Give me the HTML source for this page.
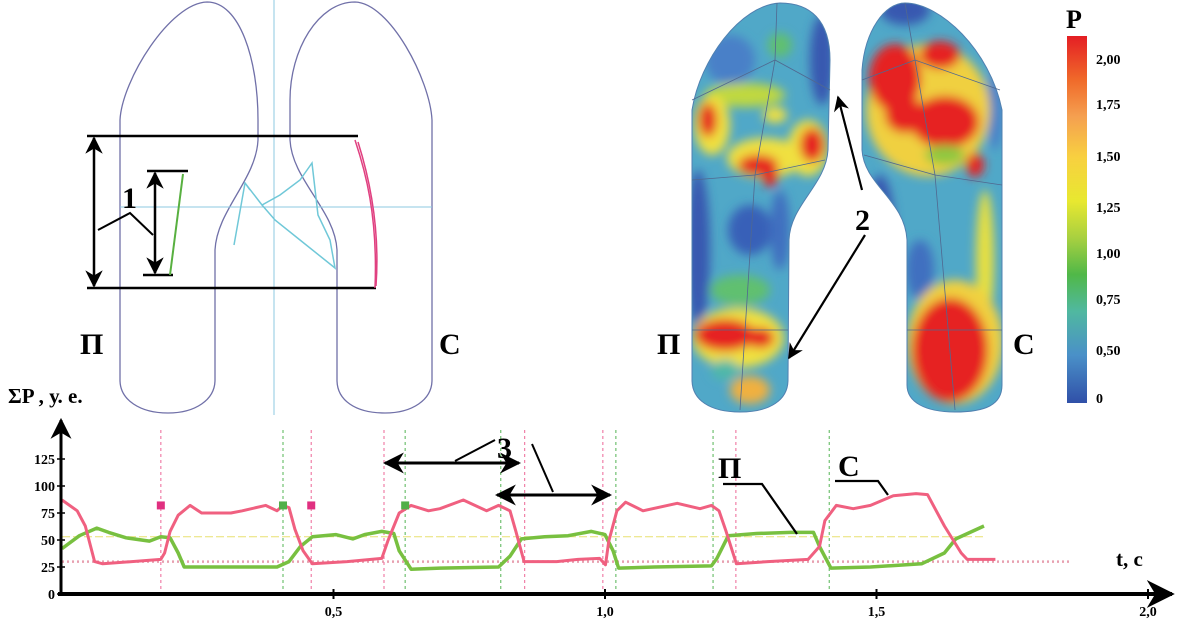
<!DOCTYPE html>
<html><head><meta charset="utf-8">
<style>
html,body{margin:0;padding:0;background:#fff;}
svg{display:block;}
text{font-family:"Liberation Serif","DejaVu Serif",serif;font-weight:bold;fill:#000;}
</style></head>
<body>
<svg id="fig" width="1192" height="630" viewBox="0 0 1192 630" xmlns="http://www.w3.org/2000/svg">
<defs>
  <filter id="blur" x="-20%" y="-20%" width="140%" height="140%"><feGaussianBlur stdDeviation="5"/></filter>
  <clipPath id="clipL"><path d="M 692 110 C 700 60, 740 5, 780 3 C 810 3, 830 20, 830 60 L 828 150 C 826 185, 790 205, 789 240 L 788 380 C 788 400, 770 412, 740 412 C 710 412, 692 400, 692 380 Z"/></clipPath>
  <clipPath id="clipR"><path d="M 862 150 L 862 70 C 865 30, 885 3, 905 3 C 940 3, 990 50, 1002 110 L 1002 385 C 1002 405, 985 412, 955 412 C 925 412, 907 402, 907 385 L 907 240 C 905 200, 864 185, 862 150 Z"/></clipPath>
  <linearGradient id="cbar" x1="0" y1="0" x2="0" y2="1">
    <stop offset="0" stop-color="#e41e24"/><stop offset="0.12" stop-color="#f06a2a"/>
    <stop offset="0.22" stop-color="#f5a050"/><stop offset="0.33" stop-color="#f8d040"/>
    <stop offset="0.45" stop-color="#e8e830"/><stop offset="0.55" stop-color="#a8d040"/>
    <stop offset="0.65" stop-color="#50b848"/><stop offset="0.75" stop-color="#50b8a0"/>
    <stop offset="0.87" stop-color="#4a90c8"/><stop offset="1" stop-color="#3050a8"/>
  </linearGradient>
  <marker id="ah" viewBox="0 0 10 10" refX="9" refY="5" markerWidth="7" markerHeight="7" orient="auto-start-reverse"><path d="M0,0 L10,5 L0,10 L3,5 Z" fill="#000"/></marker>
</defs>

<g>
  <path d="M 120 380 L 120 120 C 122 80, 170 3, 207 2 C 240 2, 258 60, 258 120 L 258 140 C 256 180, 217 210, 215 250 L 215 380 C 215 400, 195 413, 168 413 C 140 413, 120 400, 120 380 Z" fill="none" stroke="#7070a8" stroke-width="1.3"/>
  <path d="M 432 380 L 432 120 C 430 80, 390 3, 355 2 C 318 2, 290 50, 290 100 L 290 140 C 292 180, 335 210, 337 250 L 337 380 C 337 400, 355 413, 385 413 C 412 413, 432 400, 432 380 Z" fill="none" stroke="#7070a8" stroke-width="1.3"/>
  <line x1="274" y1="0" x2="274" y2="415" stroke="#8cc8e0" stroke-width="1"/>
  <line x1="120" y1="207" x2="432" y2="207" stroke="#8cc8e0" stroke-width="1"/>
  <line x1="87" y1="136" x2="358" y2="136" stroke="#000" stroke-width="2.5"/>
  <line x1="87" y1="288" x2="376" y2="288" stroke="#000" stroke-width="2.5"/>
  <line x1="94" y1="138" x2="94" y2="286" stroke="#000" stroke-width="2.5" marker-start="url(#ah)" marker-end="url(#ah)"/>
  <line x1="147" y1="171" x2="188" y2="171" stroke="#000" stroke-width="2.5"/>
  <line x1="143" y1="275" x2="173" y2="275" stroke="#000" stroke-width="2.5"/>
  <line x1="155" y1="173" x2="155" y2="273" stroke="#000" stroke-width="2.5" marker-start="url(#ah)" marker-end="url(#ah)"/>
  <polyline points="98,230 130,213 153,235" fill="none" stroke="#000" stroke-width="2"/>
  <text x="122" y="208" font-size="30">1</text>
  <line x1="183" y1="174" x2="170" y2="275" stroke="#58b040" stroke-width="2"/>
  <path d="M 355 140 C 365 170, 378 215, 375 288 M 358 142 C 370 180, 380 230, 376 286" fill="none" stroke="#e04080" stroke-width="1.5"/>
  <polyline points="234,245 245,183 262,205 275,220 300,240 335,268 330,240 318,215 312,163 300,180 280,195 262,205 245,183 250,190" fill="none" stroke="#70c8d8" stroke-width="1.5"/>
  <text x="80" y="354" font-size="30">П</text>
  <text x="439" y="354" font-size="30">С</text>
</g>

<g>
  <g clip-path="url(#clipL)">
    <rect x="680" y="0" width="160" height="420" fill="#50a8c8"/>
    <g filter="url(#blur)">
      <ellipse cx="698" cy="250" rx="12" ry="80" fill="#3858b0"/>
      <ellipse cx="822" cy="60" rx="12" ry="45" fill="#3858b0"/>
      <ellipse cx="730" cy="60" rx="25" ry="25" fill="#4a80c8"/>
      <ellipse cx="750" cy="230" rx="22" ry="25" fill="#3860b8"/>
      <ellipse cx="780" cy="230" rx="10" ry="40" fill="#4070c0"/>
      <ellipse cx="740" cy="290" rx="30" ry="15" fill="#60c070"/>
      <ellipse cx="780" cy="45" rx="12" ry="12" fill="#60c070"/>
      <ellipse cx="745" cy="95" rx="40" ry="12" fill="#c0d840"/>
      <ellipse cx="712" cy="125" rx="18" ry="30" fill="#f0e040"/>
      <ellipse cx="765" cy="158" rx="38" ry="20" fill="#f0e040"/>
      <ellipse cx="808" cy="148" rx="20" ry="28" fill="#f0e040"/>
      <ellipse cx="775" cy="115" rx="12" ry="8" fill="#f0e040"/>
      <ellipse cx="708" cy="120" rx="9" ry="17" fill="#e62020"/>
      <ellipse cx="758" cy="165" rx="20" ry="10" fill="#e62020"/>
      <ellipse cx="770" cy="175" rx="8" ry="12" fill="#e62020"/>
      <ellipse cx="812" cy="145" rx="12" ry="17" fill="#e62020"/>
      <ellipse cx="738" cy="338" rx="46" ry="30" fill="#f0e040"/>
      <ellipse cx="725" cy="335" rx="30" ry="16" fill="#e62020"/>
      <ellipse cx="760" cy="338" rx="14" ry="10" fill="#e62020"/>
      <ellipse cx="725" cy="370" rx="14" ry="10" fill="#50b8a8"/>
      <ellipse cx="750" cy="390" rx="20" ry="14" fill="#f0b040"/>
    </g>
  </g>
  <path d="M 692 110 C 700 60, 740 5, 780 3 C 810 3, 830 20, 830 60 L 828 150 C 826 185, 790 205, 789 240 L 788 380 C 788 400, 770 412, 740 412 C 710 412, 692 400, 692 380 Z" fill="none" stroke="#5080b0" stroke-width="1"/>
  <path d="M 777 3 L 775 60 L 755 175 L 740 410 M 692 100 L 775 60 L 830 90 M 692 180 L 755 175 L 825 160 M 692 330 L 788 330" fill="none" stroke="#506890" stroke-width="0.8"/>
</g>
<g>
  <g clip-path="url(#clipR)">
    <rect x="855" y="0" width="160" height="420" fill="#50a8c8"/>
    <g filter="url(#blur)">
      <ellipse cx="880" cy="235" rx="15" ry="60" fill="#3858b0"/>
      <ellipse cx="920" cy="270" rx="14" ry="30" fill="#4070c0"/>
      <ellipse cx="905" cy="10" rx="25" ry="15" fill="#3858b0"/>
      <ellipse cx="995" cy="110" rx="8" ry="40" fill="#4a80c8"/>
      <ellipse cx="928" cy="110" rx="62" ry="66" fill="#f0d040"/>
      <ellipse cx="895" cy="78" rx="26" ry="34" fill="#e62020"/>
      <ellipse cx="940" cy="55" rx="20" ry="14" fill="#e62020"/>
      <ellipse cx="945" cy="122" rx="34" ry="26" fill="#e62020"/>
      <ellipse cx="905" cy="115" rx="20" ry="18" fill="#e62020"/>
      <ellipse cx="975" cy="165" rx="9" ry="12" fill="#e62020"/>
      <ellipse cx="945" cy="155" rx="20" ry="10" fill="#90c840"/>
      <ellipse cx="985" cy="260" rx="9" ry="70" fill="#e8e040"/>
      <ellipse cx="955" cy="342" rx="48" ry="62" fill="#f0d040"/>
      <ellipse cx="950" cy="350" rx="38" ry="52" fill="#e62020"/>
    </g>
  </g>
  <path d="M 862 150 L 862 70 C 865 30, 885 3, 905 3 C 940 3, 990 50, 1002 110 L 1002 385 C 1002 405, 985 412, 955 412 C 925 412, 907 402, 907 385 L 907 240 C 905 200, 864 185, 862 150 Z" fill="none" stroke="#5080b0" stroke-width="1"/>
  <path d="M 905 3 L 915 60 L 935 175 L 955 410 M 862 80 L 915 60 L 1000 90 M 864 155 L 935 175 L 1002 185 M 907 330 L 1002 330" fill="none" stroke="#506890" stroke-width="0.8"/>
</g>
<g>
  <text x="657" y="354" font-size="30">П</text>
  <text x="1013" y="354" font-size="30">С</text>
  <text x="855" y="230" font-size="30">2</text>
  <line x1="862" y1="190" x2="838" y2="97" stroke="#000" stroke-width="2.2" marker-end="url(#ah)"/>
  <line x1="865" y1="235" x2="789" y2="358" stroke="#000" stroke-width="2.2" marker-end="url(#ah)"/>
</g>
<g>
  <text x="1066" y="28" font-size="26">P</text>
  <rect x="1067" y="36" width="20" height="367" fill="url(#cbar)"/>
  <g font-size="14">
    <text x="1096" y="64">2,00</text>
    <text x="1096" y="109">1,75</text>
    <text x="1096" y="161">1,50</text>
    <text x="1096" y="212">1,25</text>
    <text x="1096" y="258">1,00</text>
    <text x="1096" y="304">0,75</text>
    <text x="1096" y="355">0,50</text>
    <text x="1096" y="403">0</text>
  </g>
</g>

<g id="chart"></g>
</svg>

<script>
const tickT = [0, 0.5, 1.0, 1.5, 2.0];
const tickTLabels = ["", "0,5", "1,0", "1,5", "2,0"];
const tickV = [0, 25, 50, 75, 100, 125];
const tickVLabels = ["0", "25", "50", "75", "100", "125"];
const seriesC_t = [0,.028,.043,.060,.075,.182,.189,.199,.214,.236,.257,.311,.332,.375,.396,.407,.418,.429,.444,.461,.525,.589,.600,.621,.643,.675,.696,.739,.782,.804,.825,.836,.851,.911,.95,.99,1.001,1.007,1.022,1.038,1.070,1.133,1.175,1.196,1.210,1.223,1.242,1.300,1.374,1.395,1.405,1.426,1.457,1.489,1.531,1.573,1.594,1.625,1.656,1.667,1.719];
const seriesC_v = [87,77,63,30,28,32,38,58,73,82,75,75,77,82,77,82,80,60,40,28,30,33,49,75,82,77,79,87,77,82,77,58,30,30,32,33,27,49,77,85,77,84,79,82,77,58,28,30,32,44,68,82,79,82,91,93,92,63,38,32,32];
const seriesP_t = [0,.032,.064,.086,.118,.161,.182,.199,.214,.225,.257,.396,.418,.439,.461,.504,.536,.557,.589,.611,.621,.643,.696,.804,.825,.846,.889,.932,.975,1.0,1.015,1.025,1.091,1.196,1.206,1.227,1.279,1.342,1.384,1.395,1.416,1.489,1.583,1.625,1.646,1.698];
const seriesP_v = [42,54,61,57,52,49,53,52,38,25,25,25,30,44,53,55,51,55,58,56,40,23,24,25,35,51,53,54,58,55,40,24,25,26,33,54,56,57,57,44,24,25,28,38,51,63];
const eventsC = [.182,.459,.593,.852,.996,1.241];
const eventsP = [.407,.632,.808,1.02,1.199,1.413];
const markersC = [.182,.459];
const markersP = [.407,.632];
const markerLevel = 82;
const meanLevel = 53;
const baseLevel = 30;

const NS = "http://www.w3.org/2000/svg";
const chart = document.getElementById("chart");
const X0 = 62, XPU = 543;
function xs(t){ return X0 + XPU * t; }
function ys(v){ return 594 - 1.08 * v; }
function mk(tag, attrs, parent){
  const e = document.createElementNS(NS, tag);
  for (const k in attrs) e.setAttribute(k, attrs[k]);
  (parent || chart).appendChild(e);
  return e;
}
function pathFrom(ts, vs){
  return ts.map((t,i)=> (i?"L":"M") + xs(t).toFixed(1) + " " + ys(vs[i]).toFixed(1)).join(" ");
}

let e;
e = mk("line",{x1:xs(0),y1:ys(meanLevel),x2:xs(1.698),y2:ys(meanLevel),stroke:"#e8e070","stroke-width":1,"stroke-dasharray":"8 3"});


e = mk("line",{x1:xs(0),y1:ys(baseLevel),x2:xs(1.855),y2:ys(baseLevel),stroke:"#e8a0b0","stroke-width":2.5,"stroke-dasharray":"2 3"});



eventsC.forEach(t=>{
  const l = mk("line",{x1:xs(t),y1:430,x2:xs(t),y2:594,stroke:"#f080a8","stroke-width":1.2,"stroke-dasharray":"3 3"});
  
  
});
eventsP.forEach(t=>{
  const l = mk("line",{x1:xs(t),y1:430,x2:xs(t),y2:594,stroke:"#70c070","stroke-width":1.2,"stroke-dasharray":"3 3"});
  
  
});

e = mk("path",{d:pathFrom(seriesP_t,seriesP_v),fill:"none",stroke:"#78c040","stroke-width":3.5,"stroke-linejoin":"round"});


e = mk("path",{d:pathFrom(seriesC_t,seriesC_v),fill:"none",stroke:"#f06080","stroke-width":3,"stroke-linejoin":"round"});



markersC.forEach(t=>{
  const r = mk("rect",{x:xs(t)-4,y:ys(markerLevel)-4,width:8,height:8,fill:"#e03080"});
  
  
});
markersP.forEach(t=>{
  const r = mk("rect",{x:xs(t)-4,y:ys(markerLevel)-4,width:8,height:8,fill:"#50b048"});
  
  
});

e = mk("line",{x1:58,y1:ys(0),x2:1172,y2:ys(0),stroke:"#000","stroke-width":4,"marker-end":"url(#ah)"});


e = mk("line",{x1:61,y1:596,x2:61,y2:420,stroke:"#000","stroke-width":3,"marker-end":"url(#ah)"});



tickT.forEach((t,i)=>{
  if(!tickTLabels[i]) return;
  const tk = mk("line",{x1:xs(t),y1:ys(0)-5,x2:xs(t),y2:ys(0)+5,stroke:"#000","stroke-width":2});
  
  
  const tx = mk("text",{x:xs(t),y:616,"font-size":14,"text-anchor":"middle"});
  tx.textContent = tickTLabels[i];
  
  
});
tickV.forEach((v,i)=>{
  const tk = mk("line",{x1:57,y1:ys(v),x2:65,y2:ys(v),stroke:"#000","stroke-width":1.5});
  
  
  const tx = mk("text",{x:55,y:ys(v)+5,"font-size":14,"text-anchor":"end"});
  tx.textContent = tickVLabels[i];
  
  
});

e = mk("text",{x:8,y:403,"font-size":21});
e.textContent = "ΣP ,  у. е.";


e = mk("text",{x:1116,y:566,"font-size":21});
e.textContent = "t, с";



e = mk("line",{x1:385,y1:463,x2:519,y2:463,stroke:"#000","stroke-width":3,"marker-start":"url(#ah)","marker-end":"url(#ah)"});


e = mk("line",{x1:497,y1:495,x2:610,y2:495,stroke:"#000","stroke-width":3,"marker-start":"url(#ah)","marker-end":"url(#ah)"});


e = mk("text",{x:497,y:458,"font-size":30});
e.textContent = "3";


mk("line",{x1:495,y1:440,x2:455,y2:461,stroke:"#000","stroke-width":2});
mk("line",{x1:532,y1:444,x2:553,y2:492,stroke:"#000","stroke-width":2});

e = mk("text",{x:718,y:478,"font-size":30});
e.textContent = "П";


mk("polyline",{points:"723,484 762,484 797,534",fill:"none",stroke:"#000","stroke-width":2.2});
e = mk("text",{x:838,y:476,"font-size":30});
e.textContent = "С";


mk("polyline",{points:"835,481 878,481 888,495",fill:"none",stroke:"#000","stroke-width":2.2});
</script>
</body></html>
